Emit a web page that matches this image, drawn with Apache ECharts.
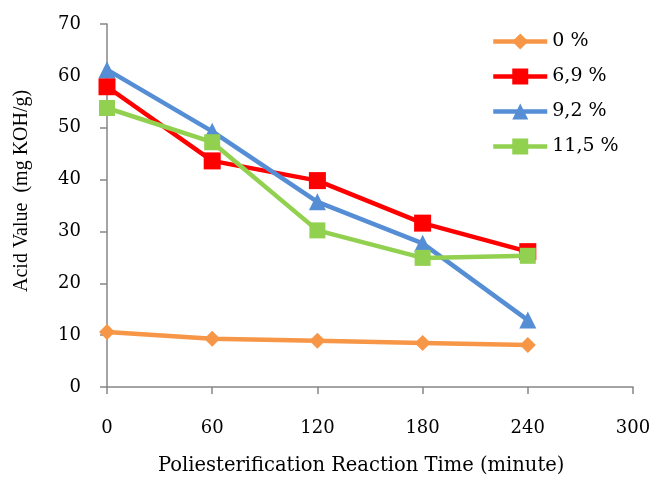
<!DOCTYPE html>
<html><head><meta charset="utf-8">
<script src="https://cdn.jsdelivr.net/npm/echarts@6/dist/echarts.min.js"></script>
<style>html,body{margin:0;padding:0;background:#fff}#c{width:656px;height:485px}</style>
</head><body><div id="c"></div>
<script>
const times = [0, 60, 120, 180, 240];
const seriesNames = ['0 %', '6,9 %', '9,2 %', '11,5 %'];
const s0 = [10.6, 9.3, 8.9, 8.5, 8.1];
const s69 = [57.9, 43.6, 39.8, 31.6, 26.1];
const s92 = [61.2, 49.3, 35.7, 27.7, 12.9];
const s115 = [53.8, 47.2, 30.2, 24.9, 25.3];
const xTicks = [0, 300, 60];
const yTicks = [0, 70, 10];
const xTitle = 'Poliesterification Reaction Time (minute)';
const yTitle = 'Acid Value  (mg KOH/g)';

const font = "'DejaVu Serif', serif";
const colors = ['#F79646', '#FF0000', '#558ED5', '#92D050'];
const symbols = ['diamond', 'rect', 'triangle', 'rect'];
const sizes = [16, 17, 17, 16];
const all = [s0, s69, s92, s115];

const chart = echarts.init(document.getElementById('c'));
chart.setOption({
  animation: false,
  textStyle: { fontFamily: font },
  grid: { left: 107, right: 23, top: 24, bottom: 98 },
  legend: {
    orient: 'vertical', left: 491, top: 32, padding: 0,
    itemWidth: 54, itemHeight: 20, itemGap: 16,
    lineStyle: { width: 4.5 },
    textStyle: { fontFamily: font, fontSize: 19, color: '#000' },
    data: seriesNames
  },
  graphic: [
    { type: 'text', left: 158, top: 456, style: { text: xTitle, font: "19.5px 'DejaVu Serif', serif", fill: '#000' } },
    { type: 'text', x: 12, y: 292, rotation: Math.PI / 2, style: { text: yTitle, font: "20px 'Liberation Serif', serif", fill: '#000' } }
  ],
  xAxis: {
    type: 'value', min: xTicks[0], max: xTicks[1], interval: xTicks[2],
    axisLine: { lineStyle: { color: '#868686', width: 1.5 } },
    axisTick: { show: true, length: 7, lineStyle: { color: '#868686', width: 1.5 } },
    axisLabel: { fontFamily: font, fontSize: 18, color: '#000', margin: 32 },
    splitLine: { show: false }
  },
  yAxis: {
    type: 'value', min: yTicks[0], max: yTicks[1], interval: yTicks[2],
    axisLine: { show: true, lineStyle: { color: '#868686', width: 1.5 } },
    axisTick: { show: true, length: 7, lineStyle: { color: '#868686', width: 1.5 } },
    axisLabel: { fontFamily: font, fontSize: 18, color: '#000', margin: 26 },
    splitLine: { show: false }
  },
  series: seriesNames.map((n, i) => ({
    name: n, type: 'line',
    data: times.map((t, j) => [t, all[i][j]]),
    symbol: symbols[i], symbolSize: sizes[i],
    lineStyle: { color: colors[i], width: 4.5 },
    itemStyle: { color: colors[i], borderWidth: 0 },
    z: i + 2
  }))
});
</script></body></html>
